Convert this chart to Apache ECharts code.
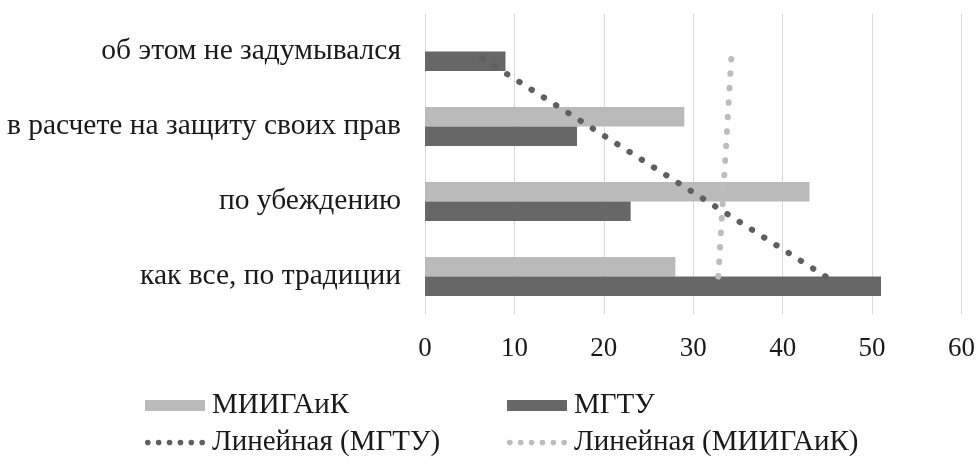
<!DOCTYPE html>
<html><head><meta charset="utf-8">
<script src="https://cdn.jsdelivr.net/npm/echarts@6/dist/echarts.min.js"></script>
<style>html,body{margin:0;padding:0;background:#fff}#c{width:978px;height:464px}</style>
</head><body><div id="c"></div>
<script>
const categories = ['как все, по традиции', 'по убеждению', 'в расчете на защиту своих прав', 'об этом не задумывался'];
const miigaik = [28, 43, 29, null];
const mgtu = [51, 23, 17, 9];
const trendMgtu = [44.8, 31.6, 18.4, 5.2];
const trendMiigaik = [32.8, 33.3, 33.8, 34.3];
const xTicks = { min: 0, max: 60, interval: 10 };

const FONT = 'Liberation Serif';
const LIGHT = '#bababa', DARK = '#676767';
const TXT = '#1a1a1a';
function dotsIcon() {
  let p = '';
  const r = 2.8;
  for (let i = 0; i < 6; i++) {
    const cx = 3 + i * 10.8;
    p += 'M' + (cx - r) + ' 6 a' + r + ' ' + r + ' 0 1 0 ' + (2 * r) + ' 0 a' + r + ' ' + r + ' 0 1 0 ' + (-2 * r) + ' 0 Z ';
  }
  return 'path://' + p;
}
const DOTS = dotsIcon();
const chart = echarts.init(document.getElementById('c'));
const dotLine = (c) => ({ color: c, width: 6, type: [0.5, 14], cap: 'round' });
const legendText = { fontFamily: FONT, fontSize: 29, color: TXT, padding: [0, 0, 0, 2] };
chart.setOption({
  animation: false,
  grid: { left: 425, right: 15, top: 14, bottom: 150, containLabel: false },
  xAxis: {
    type: 'value', min: xTicks.min, max: xTicks.max, interval: xTicks.interval,
    axisLine: { show: false }, axisTick: { show: false },
    splitLine: { lineStyle: { color: '#d9d9d9', width: 1 } },
    axisLabel: { margin: 21, fontFamily: FONT, fontSize: 27, color: TXT }
  },
  yAxis: {
    type: 'category', data: categories,
    axisLine: { show: false }, axisTick: { show: false },
    axisLabel: { margin: 24, fontFamily: FONT, fontSize: 29.5, color: TXT }
  },
  legend: [
    { left: 145, top: 391, padding: 0, height: 73, orient: 'vertical', itemWidth: 60, itemHeight: 11, itemGap: 8,
      textStyle: legendText,
      data: [{ name: 'МИИГАиК', icon: 'rect' }, { name: 'Линейная (МГТУ)', icon: DOTS }] },
    { left: 507, top: 391, padding: 0, height: 73, orient: 'vertical', itemWidth: 60, itemHeight: 11, itemGap: 8,
      textStyle: legendText,
      data: [{ name: 'МГТУ', icon: 'rect' }, { name: 'Линейная (МИИГАиК)', icon: DOTS }] }
  ],
  series: [
    { name: 'МИИГАиК', type: 'bar', data: miigaik, barGap: '0%', barCategoryGap: '48%',
      itemStyle: { color: LIGHT } },
    { name: 'МГТУ', type: 'bar', data: mgtu, barGap: '0%', barCategoryGap: '48%',
      itemStyle: { color: DARK } },
    { name: 'Линейная (МГТУ)', type: 'line', data: trendMgtu, symbol: 'none', z: 5,
      lineStyle: dotLine('#5f5f5f'), itemStyle: { color: '#5f5f5f' } },
    { name: 'Линейная (МИИГАиК)', type: 'line', data: trendMiigaik, symbol: 'none', z: 5,
      lineStyle: dotLine('#bdbdbd'), itemStyle: { color: '#bdbdbd' } }
  ]
});
</script></body></html>
